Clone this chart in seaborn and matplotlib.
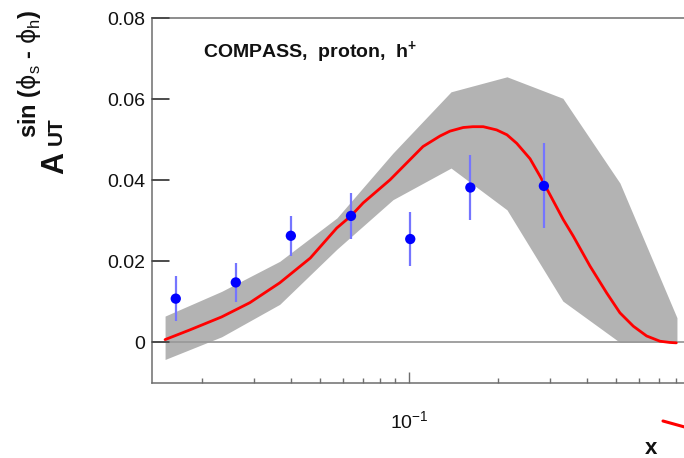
import matplotlib
matplotlib.use("Agg")
import matplotlib.pyplot as plt
from matplotlib.lines import Line2D
from matplotlib.ticker import FixedLocator, NullFormatter
import seaborn as sns

# ---- data ----
x_bins = [0.0163, 0.0260, 0.0399, 0.0637, 0.1010, 0.1612, 0.2856]
asym = [0.0108, 0.0148, 0.0263, 0.0312, 0.0255, 0.0382, 0.0386]
asym_err = [0.0055, 0.0048, 0.0050, 0.0057, 0.0066, 0.0081, 0.0105]

band_x = [0.0150, 0.0233, 0.0366, 0.0571, 0.0883, 0.1387, 0.2143, 0.331, 0.516, 0.804]
band_lo = [-0.0042, 0.0014, 0.0094, 0.0230, 0.0352, 0.0430, 0.0327, 0.0102, 0.0, 0.0]
band_hi = [0.0065, 0.0126, 0.0200, 0.0307, 0.0467, 0.0618, 0.0655, 0.0602, 0.0393, 0.0061]

curve_x = [0.0150, 0.0182, 0.0233, 0.0290, 0.0366, 0.0464, 0.0570, 0.0637, 0.0700,
           0.0863, 0.1115, 0.1273, 0.1375, 0.1525, 0.1645, 0.1782, 0.1978, 0.2143,
           0.2312, 0.2564, 0.2771, 0.2887, 0.332, 0.359, 0.409, 0.4655, 0.516,
           0.5727, 0.635, 0.7047, 0.76, 0.80]
curve_y = [0.0007, 0.0031, 0.0063, 0.0098, 0.0147, 0.0208, 0.0282, 0.0312, 0.0344,
           0.0401, 0.0483, 0.0509, 0.0521, 0.0530, 0.0532, 0.0532, 0.0524, 0.0512,
           0.0491, 0.0453, 0.0410, 0.0386, 0.0303, 0.0262, 0.0188, 0.0122, 0.0073,
           0.0040, 0.0016, 0.0003, 0.0, -0.0001]

y_ticks = [0.0, 0.02, 0.04, 0.06, 0.08]
y_tick_labels = ["0", "0.02", "0.04", "0.06", "0.08"]
x_major = [0.1]
x_major_labels = [r"$10^{-1}$"]
x_minor = [0.02, 0.03, 0.04, 0.05, 0.06, 0.07, 0.08, 0.09,
           0.2, 0.3, 0.4, 0.5, 0.6, 0.7, 0.8, 0.9]
title_text = r"COMPASS,  proton,  h$^{\mathbf{+}}$"

# ---- style ----
sns.set_theme(style="white")
spine_col = "#6e6e6e"
plt.rcParams.update({
    "font.family": ["Liberation Sans", "DejaVu Sans"],
    "mathtext.fontset": "custom",
    "mathtext.rm": "Liberation Sans",
    "mathtext.bf": "Liberation Sans:bold",
    "mathtext.it": "DejaVu Sans",
    "mathtext.sf": "Liberation Sans",
    "axes.axisbelow": False,
    "xtick.bottom": True, "ytick.left": True,
    "xtick.top": False, "ytick.right": False,
    "xtick.direction": "in", "ytick.direction": "in",
    "xtick.color": spine_col, "ytick.color": "#555555",
    "xtick.labelcolor": "#111111", "ytick.labelcolor": "#111111",
})

W, H = 684, 458
fig = plt.figure(figsize=(W / 100, H / 100), dpi=100)
fig.patch.set_facecolor("white")

ax_left, ax_right, ax_top, ax_bottom = 152, 705, 18, 383
ax_w_px = ax_right - ax_left
ax = fig.add_axes([ax_left / W, (H - ax_bottom) / H,
                   ax_w_px / W, (ax_bottom - ax_top) / H])
ax.set_facecolor("white")
ax.set_axisbelow(False)
ax.set_xscale("log")

# band
ax.fill_between(band_x, band_lo, band_hi, color="#b3b3b3", lw=0, zorder=1)
# zero line
ax.axhline(0, color="#9a9a9a", lw=1.3, zorder=2)
# curve
sns.lineplot(x=curve_x, y=curve_y, ax=ax, color="#ff0000", lw=2.0, zorder=3)
# data points
ax.errorbar(x_bins, asym, yerr=asym_err, fmt="none", ecolor="#7575ff",
            elinewidth=1.6, capsize=0, zorder=4)
sns.scatterplot(x=x_bins, y=asym, ax=ax, color="#0000ff", s=55,
                edgecolor="none", linewidth=0, zorder=5)

ax.set_xlim(0.01355, 1.0)
ax.set_ylim(-0.01, 0.08)

ax.set_xticks(x_major)
ax.set_xticklabels(x_major_labels)
ax.xaxis.set_minor_locator(FixedLocator(x_minor))
ax.xaxis.set_minor_formatter(NullFormatter())
ax.set_yticks(y_ticks)
ax.set_yticklabels(y_tick_labels)

for s in ["left", "bottom", "top", "right"]:
    ax.spines[s].set_visible(True)
    ax.spines[s].set_color(spine_col)
    ax.spines[s].set_linewidth(1.1)

ax.tick_params(axis="y", which="major", left=True, direction="in", length=12.5,
               width=1.2, pad=5, labelsize=14)
ax.tick_params(axis="x", which="major", bottom=True, direction="in", length=8,
               width=1.0, pad=20, labelsize=14)
ax.tick_params(axis="x", which="minor", bottom=True, direction="in", length=3.8,
               width=1.0)
ax.set_xlabel("")
ax.set_ylabel("")

# inward y tick marks drawn on top of everything (~17 px long)
tick_len = 17.4 / ax_w_px
for yv in y_ticks:
    ax.add_line(Line2D([0, tick_len], [yv, yv], transform=ax.get_yaxis_transform(),
                       color="#4a4a4a", lw=1.2, zorder=10, clip_on=False))

# title inside the frame
fig.text(203 / W, 1 - 58.5 / H, title_text, fontsize=14, fontweight="bold",
         ha="left", va="baseline", color="#111111")

# y-axis title pieces (rotated)
fig.text(63 / W, 1 - 163 / H, "A", fontsize=22, fontweight="bold", rotation=90,
         rotation_mode="anchor", ha="center", va="baseline", color="#111111")
fig.text(62 / W, 1 - 131 / H, "UT", fontsize=15, fontweight="bold", rotation=90,
         rotation_mode="anchor", ha="center", va="baseline", color="#111111")
fig.text(36 / W, 1 - 74 / H, r"sin ($\phi_{\mathrm{s}}$ - $\phi_{\mathrm{h}}$)",
         fontsize=17, fontweight="bold", rotation=90, rotation_mode="anchor",
         ha="center", va="baseline", color="#111111")

# x-axis title
fig.text(651 / W, 1 - 449 / H, "x", fontsize=16, fontweight="bold",
         ha="center", va="center", color="#111111")

# small red fragment at bottom right
fig.add_artist(Line2D([663 / W, 690 / W], [1 - 421 / H, 1 - 428.5 / H],
                      color="#ff0000", lw=2.2))

fig.savefig("out.png", dpi=100)
